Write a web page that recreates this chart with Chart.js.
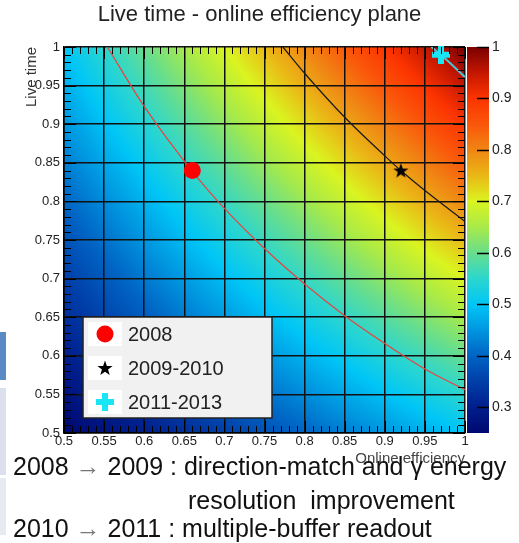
<!DOCTYPE html>
<html>
<head>
<meta charset="utf-8">
<title>Live time - online efficiency plane</title>
<script src="https://cdn.jsdelivr.net/npm/chart.js@4.4.1/dist/chart.umd.min.js"></script>
<style>
  html, body { margin: 0; padding: 0; background: #fff; }
  #wrap { position: relative; width: 519px; height: 543px; overflow: hidden; font-family: "Liberation Sans", Arial, sans-serif; }
  #wrap canvas { position: absolute; left: 0; top: 0; }
  .note { position: absolute; font-size: 25px; line-height: 25px; color: #111; white-space: pre; }
  .arrow { color: #777; }
  .slide { position: absolute; left: 0; width: 6px; }
</style>
</head>
<body>
<div id="wrap">
  <div class="slide" style="top:332px;height:48px;background:#5b89c5"></div>
  <div class="slide" style="top:388px;height:87px;background:#dcdfee"></div>
  <div class="slide" style="top:478px;height:57px;background:#e8eaf2"></div>
  <canvas id="plane" width="519" height="543"></canvas>
  <div class="note" style="left:13px;top:454px">2008 <span class="arrow">→</span> 2009 : direction-match and γ energy</div>
  <div class="note" style="left:188px;top:488px">resolution  improvement</div>
  <div class="note" style="left:13px;top:516px">2010 <span class="arrow">→</span> 2011 : multiple-buffer readout</div>
</div>
<script>
const FONT = '"Liberation Sans", Arial, sans-serif';

// axes (online efficiency on x, live time on y)
const axisTicks = [0.5, 0.55, 0.6, 0.65, 0.7, 0.75, 0.8, 0.85, 0.9, 0.95, 1];
const axisTickLabels = ['0.5', '0.55', '0.6', '0.65', '0.7', '0.75', '0.8', '0.85', '0.9', '0.95', '1'];
const zTicks = [0.3, 0.4, 0.5, 0.6, 0.7, 0.8, 0.9, 1];
const zTickLabels = ['0.3', '0.4', '0.5', '0.6', '0.7', '0.8', '0.9', '1'];

// colour map values read at the grid crossings
const mapX = [0.5, 0.55, 0.6, 0.65, 0.7, 0.75, 0.8, 0.85, 0.9, 0.95, 1];
const mapY = [1, 0.95, 0.9, 0.85, 0.8, 0.75, 0.7, 0.65, 0.6, 0.55, 0.5];
const mapZ = [
  [0.500, 0.550, 0.600, 0.650, 0.700, 0.750, 0.800, 0.850, 0.900, 0.950, 1.000],
  [0.475, 0.523, 0.570, 0.618, 0.665, 0.713, 0.760, 0.808, 0.855, 0.903, 0.950],
  [0.450, 0.495, 0.540, 0.585, 0.630, 0.675, 0.720, 0.765, 0.810, 0.855, 0.900],
  [0.425, 0.468, 0.510, 0.553, 0.595, 0.638, 0.680, 0.723, 0.765, 0.808, 0.850],
  [0.400, 0.440, 0.480, 0.520, 0.560, 0.600, 0.640, 0.680, 0.720, 0.760, 0.800],
  [0.375, 0.413, 0.450, 0.488, 0.525, 0.563, 0.600, 0.638, 0.675, 0.713, 0.750],
  [0.350, 0.385, 0.420, 0.455, 0.490, 0.525, 0.560, 0.595, 0.630, 0.665, 0.700],
  [0.325, 0.358, 0.390, 0.423, 0.455, 0.488, 0.520, 0.553, 0.585, 0.618, 0.650],
  [0.300, 0.330, 0.360, 0.390, 0.420, 0.450, 0.480, 0.510, 0.540, 0.570, 0.600],
  [0.275, 0.303, 0.330, 0.358, 0.385, 0.413, 0.440, 0.468, 0.495, 0.523, 0.550],
  [0.250, 0.275, 0.300, 0.325, 0.350, 0.375, 0.400, 0.425, 0.450, 0.475, 0.500]
];

// running periods
const years = ['2008', '2009-2010', '2011-2013'];
const effValues = [0.66, 0.92, 0.97];
const liveValues = [0.84, 0.84, 0.99];

// lines of equal efficiency through each point
const curve2008X = [0.554, 0.6, 0.66, 0.7, 0.75, 0.8, 0.85, 0.9, 0.95, 1];
const curve2008Y = [1, 0.923, 0.839, 0.791, 0.739, 0.693, 0.652, 0.616, 0.583, 0.556];
const curve2009X = [0.773, 0.8, 0.85, 0.9, 0.92, 0.95, 1];
const curve2009Y = [1, 0.966, 0.909, 0.859, 0.84, 0.814, 0.774];
const curve2011X = [0.958, 0.97, 1];
const curve2011Y = [1, 0.99, 0.961];

// rainbow palette (ROOT style)
const paletteStops = [
  [0.25, [0, 8, 112]], [0.30, [0, 30, 140]], [0.35, [0, 62, 168]], [0.40, [0, 100, 196]],
  [0.45, [0, 150, 224]], [0.50, [0, 198, 246]], [0.55, [44, 214, 206]], [0.60, [104, 222, 140]],
  [0.65, [168, 234, 72]], [0.70, [218, 244, 32]], [0.75, [234, 184, 22]], [0.80, [240, 134, 20]],
  [0.85, [250, 86, 10]], [0.90, [252, 52, 0]], [0.95, [196, 22, 0]], [1.00, [122, 0, 0]]
];

function paletteColor(v) {
  if (v <= paletteStops[0][0]) return paletteStops[0][1];
  for (let i = 1; i < paletteStops.length; i++) {
    if (v <= paletteStops[i][0]) {
      const [v0, c0] = paletteStops[i - 1];
      const [v1, c1] = paletteStops[i];
      const t = (v - v0) / (v1 - v0);
      return [0, 1, 2].map(k => c0[k] + (c1[k] - c0[k]) * t);
    }
  }
  return paletteStops[paletteStops.length - 1][1];
}

function findCell(nodes, v) {
  for (let i = 0; i < nodes.length - 1; i++) {
    const a = nodes[i], b = nodes[i + 1];
    if ((v - a) * (v - b) <= 0) return [i, (v - a) / (b - a)];
  }
  return [nodes.length - 2, 1];
}

function sampleMap(xv, yv) {
  const [i, tx] = findCell(mapX, xv);
  const [j, ty] = findCell(mapY, yv);
  const top = mapZ[j][i] + (mapZ[j][i + 1] - mapZ[j][i]) * tx;
  const bot = mapZ[j + 1][i] + (mapZ[j + 1][i + 1] - mapZ[j + 1][i]) * tx;
  return top + (bot - top) * ty;
}

// marker pictures
function starImage(outer, inner, color) {
  const s = Math.ceil(outer * 2) + 2;
  const c = document.createElement('canvas');
  c.width = s; c.height = s;
  const g = c.getContext('2d');
  g.fillStyle = color;
  g.beginPath();
  for (let k = 0; k < 10; k++) {
    const r = k % 2 ? inner : outer;
    const a = -Math.PI / 2 + k * Math.PI / 5;
    g.lineTo(s / 2 + r * Math.cos(a), s / 2 + 0.5 + r * Math.sin(a));
  }
  g.closePath();
  g.fill();
  return c;
}

function crossImage(size, arm, color) {
  const c = document.createElement('canvas');
  c.width = size; c.height = size;
  const g = c.getContext('2d');
  g.fillStyle = color;
  g.fillRect((size - arm) / 2, 0, arm, size);
  g.fillRect(0, (size - arm) / 2, size, arm);
  return c;
}

const markerStyles = [
  { pointStyle: 'circle', pointRadius: 8.5, color: '#ff0000' },
  { pointStyle: starImage(8, 3.2, '#000'), pointRadius: 7, color: '#000' },
  { pointStyle: crossImage(18, 6, '#18e6f4'), pointRadius: 9, color: '#18e6f4' }
];

const markerSets = years.map((label, i) => ({
  label: label,
  data: [{ x: effValues[i], y: liveValues[i] }],
  pointStyle: markerStyles[i].pointStyle,
  pointRadius: markerStyles[i].pointRadius,
  backgroundColor: markerStyles[i].color,
  borderWidth: 0,
  clip: false,
  inLegend: true
}));

function curve(xs, ys, color, width) {
  return {
    label: '',
    data: xs.map((x, i) => ({ x: x, y: ys[i] })),
    showLine: true,
    borderColor: color,
    borderWidth: width,
    pointRadius: 0,
    cubicInterpolationMode: 'monotone',
    inLegend: false
  };
}

// colour map behind the grid
const heatmapPlugin = {
  id: 'heatmap',
  beforeDraw(chart) {
    const { ctx, chartArea: a, scales: { x, y } } = chart;
    const w = Math.round(a.right - a.left), h = Math.round(a.bottom - a.top);
    if (!chart.$heat || chart.$heat.width !== w || chart.$heat.height !== h) {
      const off = document.createElement('canvas');
      off.width = w; off.height = h;
      const octx = off.getContext('2d');
      const img = octx.createImageData(w, h);
      for (let j = 0; j < h; j++) {
        const yv = y.getValueForPixel(a.top + j + 0.5);
        for (let i = 0; i < w; i++) {
          const c = paletteColor(sampleMap(x.getValueForPixel(a.left + i + 0.5), yv));
          const k = (j * w + i) * 4;
          img.data[k] = c[0]; img.data[k + 1] = c[1]; img.data[k + 2] = c[2]; img.data[k + 3] = 255;
        }
      }
      octx.putImageData(img, 0, 0);
      chart.$heat = off;
    }
    ctx.drawImage(chart.$heat, a.left, a.top);
  }
};

// ROOT style inward ticks on the four sides of the frame
const frameTicksPlugin = {
  id: 'frameTicks',
  afterDraw(chart) {
    const { ctx, chartArea: a, scales: { x, y } } = chart;
    ctx.save();
    ctx.strokeStyle = '#000';
    ctx.lineWidth = 1;
    ctx.beginPath();
    for (let k = 0; k <= 50; k++) {
      const len = k % 5 === 0 ? 12 : 7;
      const px = Math.round(x.getPixelForValue(0.5 + k / 100)) + 0.5;
      ctx.moveTo(px, a.bottom); ctx.lineTo(px, a.bottom - len);
      ctx.moveTo(px, a.top); ctx.lineTo(px, a.top + len);
      const py = Math.round(y.getPixelForValue(0.5 + k / 100)) + 0.5;
      ctx.moveTo(a.left, py); ctx.lineTo(a.left + len, py);
      ctx.moveTo(a.right, py); ctx.lineTo(a.right - len, py);
    }
    ctx.stroke();
    ctx.restore();
  }
};

// palette bar on the right
const colorBarPlugin = {
  id: 'colorBar',
  afterDraw(chart) {
    const { ctx, chartArea: a } = chart;
    const z = chart.scales.z;
    const x0 = a.right + 2, x1 = a.right + 24;
    ctx.save();
    for (let py = Math.round(a.top); py < Math.round(a.bottom); py++) {
      const c = paletteColor(z.getValueForPixel(py + 0.5));
      ctx.fillStyle = `rgb(${c[0]},${c[1]},${c[2]})`;
      ctx.fillRect(x0, py, x1 - x0, 1);
    }
    ctx.strokeStyle = '#000';
    ctx.lineWidth = 1.5;
    ctx.beginPath();
    zTicks.forEach(v => {
      const py = Math.round(z.getPixelForValue(v)) + 0.5;
      ctx.moveTo(x1, py); ctx.lineTo(x1 - 12, py);
    });
    ctx.stroke();
    ctx.restore();
  }
};

// legend box inside the frame
const legendBoxPlugin = {
  id: 'legendBox',
  afterDraw(chart) {
    const { ctx } = chart;
    const box = { left: 83, top: 317, width: 189, height: 101, row: 34 };
    ctx.save();
    ctx.fillStyle = '#f1f1f1';
    ctx.fillRect(box.left, box.top, box.width, box.height);
    ctx.strokeStyle = '#222';
    ctx.lineWidth = 1.5;
    ctx.strokeRect(box.left, box.top, box.width, box.height);
    const sets = chart.data.datasets.filter(d => d.inLegend);
    sets.forEach((d, i) => {
      const cy = box.top + 17 + i * box.row;
      const cx = box.left + 22;
      ctx.fillStyle = '#fff';
      ctx.fillRect(box.left + 5, cy - 12, 34, 24);
      if (d.pointStyle === 'circle') {
        ctx.fillStyle = d.backgroundColor;
        ctx.beginPath();
        ctx.arc(cx, cy, d.pointRadius, 0, Math.PI * 2);
        ctx.fill();
      } else {
        const im = d.pointStyle;
        ctx.drawImage(im, cx - im.width / 2, cy - im.height / 2);
      }
      ctx.fillStyle = '#222';
      ctx.font = '20px ' + FONT;
      ctx.textBaseline = 'middle';
      ctx.textAlign = 'left';
      ctx.fillText(d.label, box.left + 45, cy + 1);
    });
    ctx.restore();
  }
};

new Chart(document.getElementById('plane'), {
  type: 'scatter',
  data: {
    datasets: [
      ...markerSets,
      curve(curve2008X, curve2008Y, '#e8433f', 1.2),
      curve(curve2009X, curve2009Y, '#1a1a1a', 1.2),
      curve(curve2011X, curve2011Y, '#4cc6d6', 2)
    ]
  },
  options: {
    responsive: false,
    animation: false,
    events: [],
    layout: { padding: { left: 0, right: 0, top: 0, bottom: 70 } },
    plugins: {
      legend: { display: false },
      tooltip: { enabled: false },
      title: {
        display: true,
        text: 'Live time - online efficiency plane',
        color: '#222',
        font: { family: FONT, size: 22, weight: 'normal', lineHeight: '26px' },
        padding: { top: 2, bottom: 19 }
      }
    },
    scales: {
      x: {
        type: 'linear',
        position: 'bottom',
        min: 0.5,
        max: 1,
        afterBuildTicks: s => { s.ticks = axisTicks.map(v => ({ value: v })); },
        afterFit: s => { s.height = 40; },
        ticks: {
          autoSkip: false, maxRotation: 0, padding: 1, color: '#222',
          font: { family: FONT, size: 13 },
          callback: (v, i) => axisTickLabels[i]
        },
        grid: { color: '#111', lineWidth: 1.5, drawTicks: false },
        border: { color: '#000', width: 1.5 },
        title: {
          display: true, text: 'Online efficiency', align: 'end', color: '#444',
          font: { family: FONT, size: 15 }, padding: { top: 0, bottom: 5 }
        }
      },
      y: {
        type: 'linear',
        position: 'left',
        min: 0.5,
        max: 1,
        afterBuildTicks: s => { s.ticks = axisTicks.map(v => ({ value: v })); },
        afterFit: s => { s.width = 64; },
        ticks: {
          autoSkip: false, padding: 4, color: '#222',
          font: { family: FONT, size: 13 },
          callback: (v, i) => axisTickLabels[i]
        },
        grid: { color: '#111', lineWidth: 1.5, drawTicks: false },
        border: { color: '#000', width: 1.5 },
        title: {
          display: true, text: 'Live time', align: 'end', color: '#333',
          font: { family: FONT, size: 15 }, padding: { top: 23, bottom: 0 }
        }
      },
      z: {
        type: 'linear',
        position: 'right',
        min: 0.25,
        max: 1,
        afterBuildTicks: s => { s.ticks = zTicks.map(v => ({ value: v })); },
        afterFit: s => { s.width = 54; },
        ticks: {
          autoSkip: false, padding: 27, color: '#222',
          font: { family: FONT, size: 14 },
          callback: (v, i) => zTickLabels[i]
        },
        grid: { display: false, drawTicks: false },
        border: { display: false }
      }
    }
  },
  plugins: [heatmapPlugin, frameTicksPlugin, colorBarPlugin, legendBoxPlugin]
});
</script>
</body>
</html>
